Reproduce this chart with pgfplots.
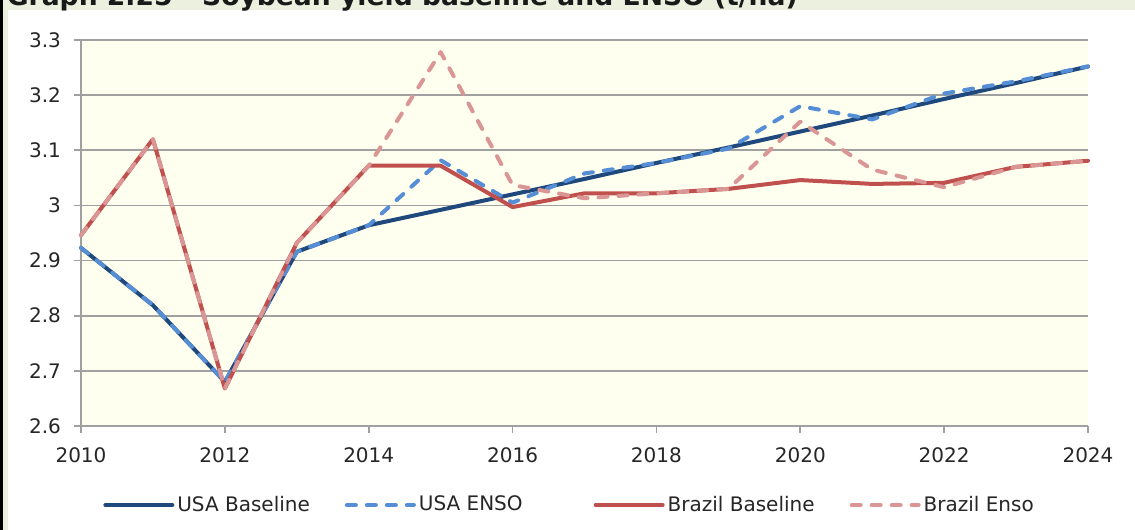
\documentclass[border=0pt]{standalone}
\usepackage{pgfplots}
\pgfplotsset{compat=1.18}
\usepackage{fontspec}
\setmainfont{DejaVu Sans}
\definecolor{bggreen}{RGB}{235,241,222}
\definecolor{plotbg}{RGB}{255,255,240}
\definecolor{gridgray}{RGB}{160,160,160}
\definecolor{usab}{RGB}{31,73,125}
\definecolor{usae}{RGB}{85,142,213}
\definecolor{brb}{RGB}{192,80,77}
\definecolor{bre}{RGB}{217,150,148}
\begin{document}
\begin{tikzpicture}[x=1pt,y=1pt]
\clip (0,0) rectangle (567.5,265);
\fill[bggreen] (0,0) rectangle (567.5,265);
\fill[white] (4,0) rectangle (567.5,260);
\fill[black] (0,0) rectangle (1.5,265);
\node[anchor=base west, inner sep=0pt, font=\fontsize{13.3}{16}\selectfont\bfseries, text=black!90] at (3.2,262) {Graph 2.25 - Soybean yield baseline and ENSO (t/ha)};
\begin{axis}[
  at={(40.5pt,52pt)}, anchor=south west, scale only axis,
  width=503.5pt, height=193pt,
  xmin=2010, xmax=2024, ymin=2.6, ymax=3.3,
  axis x line=bottom, axis y line=left,
  axis line style={gridgray, line width=0.8pt, -},
  axis background/.style={fill=plotbg},
  xtick={2010,2012,...,2024},
  xticklabels={2010,2012,2014,2016,2018,2020,2022,2024},
  ytick={2.6,2.7,2.8,2.9,3.0,3.1,3.2,3.3},
  yticklabels={2.6,2.7,2.8,2.9,3,3.1,3.2,3.3},
  tick align=outside, major tick length=3.5pt,
  tick style={gridgray, line width=0.8pt},
  ymajorgrids, grid style={gridgray, line width=0.8pt},
  ticklabel style={font=\fontsize{10}{12}\selectfont, text=black!85},
  xticklabel style={yshift=-4pt},
  yticklabel style={xshift=-3pt},
  legend columns=4,
  legend style={at={(0.0218,-0.2047)}, anchor=west, draw=none, fill=none, inner sep=0pt,
    font=\fontsize{10}{12}\selectfont, text=black!85,
    /tikz/every even column/.append style={column sep=16pt},
    nodes={inner sep=1.5pt}},
  legend image code/.code={\draw[#1] (0pt,0pt) -- (33.5pt,0pt);},
  clip=false,
]
\addplot[usab, line width=2pt, line cap=round, line join=round] coordinates {
(2010,2.923) (2011,2.819) (2012,2.680) (2013,2.916) (2014,2.964) (2015,2.992)
(2016,3.020) (2017,3.048) (2018,3.077) (2019,3.105) (2020,3.134) (2021,3.163)
(2022,3.193) (2023,3.222) (2024,3.252)};
\addlegendentry{USA Baseline}
\addplot[usae, line width=2pt, line cap=round, line join=round, dash pattern=on 4.5pt off 5.5pt] coordinates {
(2010,2.923) (2011,2.819) (2012,2.680) (2013,2.916) (2014,2.964) (2015,3.082)
(2016,3.005) (2017,3.058) (2018,3.077) (2019,3.103) (2020,3.180) (2021,3.156)
(2022,3.203) (2023,3.225) (2024,3.252)};
\addlegendentry{USA ENSO\makebox[18pt]{}}
\addplot[brb, line width=2pt, line cap=round, line join=round] coordinates {
(2010,2.946) (2011,3.120) (2012,2.668) (2013,2.932) (2014,3.072) (2015,3.072)
(2016,2.997) (2017,3.022) (2018,3.022) (2019,3.030) (2020,3.046) (2021,3.039)
(2022,3.041) (2023,3.070) (2024,3.081)};
\addlegendentry{Brazil Baseline}
\addplot[bre, line width=2pt, line cap=round, line join=round, dash pattern=on 4.5pt off 5.5pt] coordinates {
(2010,2.946) (2011,3.120) (2012,2.668) (2013,2.932) (2014,3.072) (2015,3.278)
(2016,3.037) (2017,3.013) (2018,3.022) (2019,3.030) (2020,3.152) (2021,3.065)
(2022,3.033) (2023,3.070) (2024,3.081)};
\addlegendentry{Brazil Enso}
\end{axis}
\end{tikzpicture}
\end{document}
